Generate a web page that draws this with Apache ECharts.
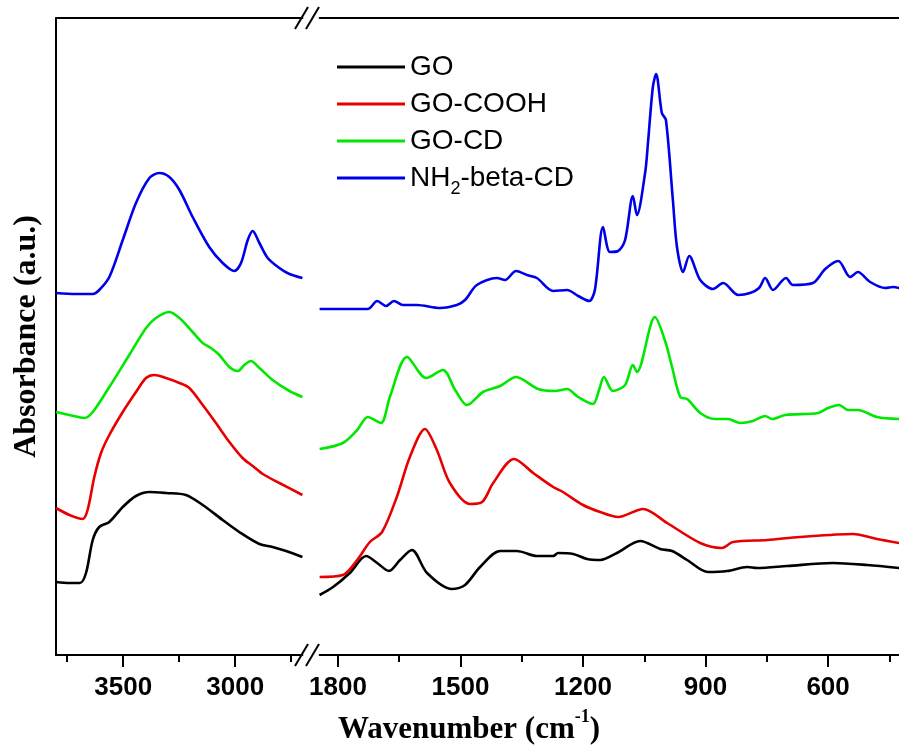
<!DOCTYPE html>
<html>
<head>
<meta charset="utf-8">
<script src="https://cdn.jsdelivr.net/npm/echarts@6/dist/echarts.min.js"></script>
<style>
html, body { margin: 0; padding: 0; background: #fff; }
#main { width: 899px; height: 747px; }
</style>
</head>
<body>
<div id="main"></div>
<script>
var seriesNames = ['GO', 'GO-COOH', 'GO-CD', 'NH2-beta-CD'];
var seriesColors = ['#000000', '#e80000', '#00e800', '#0000e8'];

// tick values of the two axis pieces
var highMajor = [3500, 3000];
var highMinor = [3750, 3250, 2750];
var lowMajor = [1800, 1500, 1200, 900, 600];
var lowMinor = [1650, 1350, 1050, 750, 450];

// [wavenumber, absorbance (offset)]
var goHigh = [[3800,0.73],[3740,0.72],[3693,0.72],[3666,0.82],[3636,1.15],[3607,1.28],[3562,1.33],[3502,1.48],[3443,1.59],[3383,1.63],[3309,1.62],[3220,1.60],[3145,1.50],[3056,1.35],[2982,1.23],[2892,1.11],[2833,1.08],[2773,1.04],[2700,0.98]];
var goLow = [[1845,0.60],[1812,0.68],[1771,0.82],[1731,0.99],[1704,0.92],[1675,0.84],[1648,0.95],[1619,1.05],[1582,0.82],[1521,0.66],[1489,0.70],[1452,0.88],[1403,1.04],[1362,1.04],[1313,0.99],[1273,0.99],[1261,1.02],[1224,1.01],[1190,0.96],[1158,0.95],[1117,1.02],[1060,1.14],[1011,1.06],[982,1.04],[945,0.95],[894,0.83],[847,0.84],[798,0.88],[774,0.87],[700,0.89],[588,0.92],[504,0.90],[426,0.87]];

var coohHigh = [[3800,1.47],[3740,1.40],[3681,1.36],[3659,1.45],[3629,1.78],[3599,2.02],[3562,2.20],[3502,2.43],[3443,2.63],[3398,2.77],[3361,2.80],[3309,2.77],[3249,2.72],[3205,2.67],[3145,2.50],[3086,2.32],[3026,2.13],[2967,1.97],[2922,1.89],[2877,1.81],[2803,1.72],[2700,1.60]];
var coohLow = [[1845,0.78],[1788,0.80],[1753,0.95],[1722,1.13],[1692,1.23],[1656,1.58],[1624,1.98],[1587,2.26],[1558,2.05],[1526,1.72],[1477,1.51],[1447,1.53],[1420,1.72],[1369,1.96],[1322,1.82],[1273,1.68],[1249,1.63],[1200,1.50],[1158,1.43],[1114,1.38],[1053,1.46],[994,1.32],[913,1.12],[860,1.07],[833,1.13],[749,1.15],[669,1.18],[539,1.21],[480,1.16],[426,1.12]];

var cdHigh = [[3800,2.43],[3740,2.40],[3674,2.37],[3636,2.43],[3562,2.68],[3473,3.00],[3398,3.27],[3354,3.37],[3294,3.43],[3249,3.37],[3190,3.23],[3145,3.12],[3108,3.07],[3071,3.00],[3026,2.88],[2989,2.84],[2959,2.90],[2930,2.94],[2892,2.87],[2833,2.75],[2758,2.64],[2700,2.58]];
var cdLow = [[1845,2.06],[1788,2.12],[1753,2.25],[1727,2.38],[1695,2.32],[1673,2.58],[1631,2.98],[1584,2.77],[1543,2.85],[1513,2.65],[1484,2.50],[1445,2.63],[1403,2.69],[1364,2.78],[1310,2.66],[1269,2.64],[1239,2.66],[1212,2.58],[1176,2.51],[1160,2.66],[1149,2.78],[1127,2.64],[1097,2.70],[1078,2.90],[1068,2.83],[1024,3.38],[999,3.14],[982,2.88],[962,2.58],[945,2.56],[913,2.42],[877,2.36],[845,2.36],[815,2.32],[784,2.34],[754,2.39],[737,2.36],[705,2.40],[624,2.42],[600,2.47],[573,2.50],[551,2.45],[527,2.45],[480,2.38],[426,2.36]];

var cdNh2High = [[3800,3.62],[3711,3.61],[3636,3.61],[3607,3.65],[3562,3.78],[3502,4.15],[3443,4.52],[3383,4.77],[3339,4.82],[3294,4.78],[3249,4.65],[3190,4.38],[3116,4.08],[3056,3.92],[3004,3.84],[2974,3.92],[2944,4.15],[2922,4.24],[2892,4.12],[2855,3.97],[2803,3.87],[2758,3.81],[2700,3.77]];
var cdNh2Low = [[1845,3.46],[1727,3.46],[1704,3.54],[1682,3.49],[1663,3.54],[1641,3.50],[1607,3.50],[1550,3.47],[1509,3.50],[1489,3.55],[1460,3.70],[1411,3.77],[1391,3.75],[1364,3.84],[1337,3.80],[1313,3.77],[1273,3.64],[1239,3.65],[1212,3.59],[1185,3.54],[1171,3.65],[1151,4.28],[1134,4.03],[1114,4.04],[1097,4.15],[1078,4.59],[1068,4.40],[1048,4.82],[1041,5.12],[1029,5.68],[1021,5.81],[1007,5.42],[997,5.35],[980,4.55],[970,4.08],[955,3.83],[940,3.99],[913,3.75],[882,3.66],[857,3.72],[820,3.60],[791,3.62],[769,3.67],[754,3.77],[735,3.65],[703,3.77],[686,3.70],[637,3.72],[607,3.86],[575,3.94],[546,3.78],[527,3.83],[497,3.73],[460,3.67],[441,3.68],[426,3.67]];

var highData = [goHigh, coohHigh, cdHigh, cdNh2High];
var lowData = [goLow, coohLow, cdLow, cdNh2Low];

var chartDom = document.getElementById('main');
var myChart = echarts.init(chartDom);
var option;

var sans = 'Liberation Sans';
var serif = 'Liberation Serif';

function xAxisPart(grid, min, max, pos, ticks, len, labels) {
    return {
        type: 'value',
        gridIndex: grid,
        position: pos,
        inverse: true,
        min: min,
        max: max,
        splitLine: { show: false },
        axisLine: { show: ticks === null || labels, onZero: false, lineStyle: { color: '#000', width: 2 } },
        axisTick: ticks === null ? { show: false } : {
            show: true, customValues: ticks, length: len,
            lineStyle: { color: '#000', width: 2 }
        },
        axisLabel: labels ? {
            show: true, customValues: ticks, margin: 20,
            formatter: function (v) { return String(v); },
            color: '#000', fontFamily: sans, fontWeight: 'bold', fontSize: 26
        } : { show: false }
    };
}

var series = [];
seriesNames.forEach(function (name, i) {
    [highData[i], lowData[i]].forEach(function (d, k) {
        series.push({
            name: name,
            type: 'line',
            xAxisIndex: k === 0 ? 0 : 3,
            yAxisIndex: k,
            data: d,
            symbol: 'none',
            smooth: 0.3,
            color: seriesColors[i],
            lineStyle: { width: 2.6, color: seriesColors[i] }
        });
    });
});

function slash(x1, y1, x2, y2) {
    return { type: 'line', shape: { x1: x1, y1: y1, x2: x2, y2: y2 }, style: { stroke: '#000', lineWidth: 2 } };
}

option = {
    animation: false,
    backgroundColor: '#fff',
    title: {
        text: 'Wavenumber (cm{sup|-1})',
        left: 333,
        top: 703,
        textStyle: {
            fontFamily: serif, fontWeight: 'bold', fontSize: 31, color: '#000',
            rich: {
                sup: { fontFamily: serif, fontWeight: 'bold', fontSize: 18, color: '#000', verticalAlign: 'top', padding: [0, 0, 26, 0] }
            }
        }
    },
    legend: {
        data: seriesNames,
        orient: 'vertical',
        left: 332,
        top: 48,
        itemGap: 9,
        itemWidth: 68,
        itemHeight: 3,
        icon: 'rect',
        formatter: function (name) { return name.replace('NH2', 'NH{sub|2}'); },
        textStyle: {
            fontFamily: sans, fontSize: 28, color: '#000',
            rich: {
                sub: { fontFamily: sans, fontSize: 18, color: '#000', verticalAlign: 'bottom', padding: [22, 0, 0, 0] }
            }
        }
    },
    grid: [
        { left: 56, top: 18, width: 246.4, height: 637, outerBoundsMode: 'none' },
        { left: 319.6, top: 18, width: 631, height: 637, outerBoundsMode: 'none' }
    ],
    xAxis: [
        xAxisPart(0, 2700, 3800, 'bottom', highMajor, 12, true),
        xAxisPart(0, 2700, 3800, 'bottom', highMinor, 7, false),
        xAxisPart(0, 2700, 3800, 'top', null, 0, false),
        xAxisPart(1, 300, 1845, 'bottom', lowMajor, 12, true),
        xAxisPart(1, 300, 1845, 'bottom', lowMinor, 7, false),
        xAxisPart(1, 300, 1845, 'top', null, 0, false)
    ],
    yAxis: [
        {
            type: 'value', gridIndex: 0, min: 0, max: 6.37,
            name: 'Absorbance (a.u.)',
            nameLocation: 'middle',
            nameGap: 13,
            nameTextStyle: { fontFamily: serif, fontWeight: 'bold', fontSize: 32, color: '#000' },
            axisLine: { show: true, lineStyle: { color: '#000', width: 2 } },
            axisTick: { show: false },
            axisLabel: { show: false },
            splitLine: { show: false }
        },
        {
            type: 'value', gridIndex: 1, min: 0, max: 6.37, show: false,
            splitLine: { show: false }
        }
    ],
    graphic: [
        slash(295, 666, 308, 644),
        slash(306, 666, 319, 644),
        slash(295, 29, 308, 7),
        slash(306, 29, 319, 7)
    ],
    series: series
};

option && myChart.setOption(option);
</script>
</body>
</html>
